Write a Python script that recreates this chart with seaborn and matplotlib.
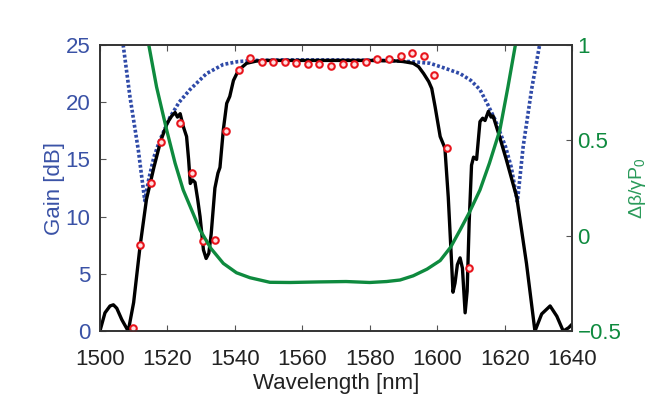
import matplotlib
matplotlib.use("Agg")
import matplotlib.pyplot as plt
import seaborn as sns

# measured gain (black)
gain_wl = [1500, 1501.5, 1503, 1504, 1505, 1506.5, 1508.4, 1510, 1511.9, 1513.8, 1516, 1518,
           1520, 1521.3, 1522.3, 1523, 1523.8, 1524.7, 1525.7, 1526.3, 1526.8, 1527.5, 1528.2,
           1529, 1529.7, 1530.7, 1531.5, 1532.3, 1533, 1534.1, 1535, 1535.6, 1536.6, 1537.6,
           1538.5, 1539.6, 1541.1, 1543.5, 1546.5, 1550, 1560, 1570, 1580, 1588, 1590, 1592.9,
           1594.5, 1596, 1597.5, 1598.4, 1599.4, 1600.9, 1602.3, 1603.3, 1604.3, 1604.7, 1605.3,
           1606, 1606.8, 1607.5, 1608.3, 1608.9, 1609.5, 1610.2, 1610.8, 1611.7, 1612.7, 1613.5,
           1614.2, 1615.2, 1616, 1616.6, 1618.5, 1620.5, 1623.6, 1626.5, 1629, 1631, 1633.5,
           1635.5, 1637.4, 1639, 1640]
gain_db = [0, 1.6, 2.2, 2.3, 2.0, 1.0, 0, 2.5, 7.4, 11.5, 14.3, 16.6,
           18.2, 18.8, 19.1, 18.7, 19.0, 17.9, 17.0, 15.0, 12.9, 13.2, 13.0,
           11.5, 10.0, 7.1, 6.35, 6.8, 8.5, 12.5, 13.8, 14.3, 17.6, 19.9,
           20.5, 21.9, 22.8, 23.4, 23.6, 23.65, 23.65, 23.65, 23.65, 23.6, 23.55, 23.4,
           23.1, 22.5, 21.8, 21.2, 19.6, 17.0, 16.0, 11.7, 5.9, 3.4, 4.2,
           5.8, 6.4, 5.5, 1.6, 3.5, 9.5, 14.5, 15.2, 15.0, 18.3, 18.6,
           18.4, 19.2, 18.7, 18.8, 17.0, 15.0, 11.7, 5.9, 0, 1.5, 2.2,
           1.3, 0, 0.3, 0.6]

# theoretical gain (blue dotted)
theo_wl = [1506.5, 1506.9, 1508.9, 1511.4, 1513.3, 1514.5, 1516, 1517.8, 1520.8, 1523.5,
           1526.7, 1531.6, 1536.6, 1541, 1546, 1555, 1570, 1585, 1592, 1597.9, 1602, 1606.8,
           1610, 1612.7, 1615, 1617.3, 1620.3, 1622, 1623.8, 1625.5, 1628, 1630.5, 1631]
theo_db = [25.9, 25, 20.5, 15.8, 11.4, 13.3, 15.2, 16.7, 18.7, 20.0,
           21.1, 22.5, 23.3, 23.55, 23.65, 23.7, 23.7, 23.65, 23.55, 23.4, 23.0, 22.5,
           21.9, 21.1, 19.8, 18.4, 16.1, 14.3, 11.3, 16.1, 21.1, 25.2, 26.0]

# phase mismatch (green, right axis)
dk_wl = [1514.2, 1514.6, 1516.8, 1519.8, 1522.3, 1524.7, 1529.7, 1532.9, 1536.6, 1540.5,
         1544.5, 1550.4, 1556.4, 1565, 1573, 1580, 1585, 1589, 1592.9, 1597, 1600.9, 1604,
         1606.8, 1609.5, 1612.7, 1615.5, 1618.6, 1621, 1623.1, 1623.5]
dk_val = [1.03, 0.99, 0.78, 0.554, 0.38, 0.24, 0.03, -0.066, -0.145, -0.194,
          -0.22, -0.244, -0.245, -0.242, -0.24, -0.245, -0.24, -0.232, -0.21, -0.175, -0.13, -0.06,
          0.03, 0.12, 0.24, 0.38, 0.554, 0.78, 0.99, 1.03]

# simulated points (red circles)
pts_wl = [1509.9, 1511.9, 1515.1, 1518.1, 1523.7, 1527.2, 1530.7, 1534.1, 1537.4, 1541.1,
          1544.6, 1548.0, 1551.2, 1554.9, 1558.2, 1561.6, 1565.1, 1568.5, 1572.0, 1575.3,
          1578.8, 1582.2, 1585.7, 1589.2, 1592.5, 1596.0, 1599.1, 1602.8, 1609.5]
pts_db = [0.3, 7.5, 12.9, 16.5, 18.2, 13.8, 7.9, 8.0, 17.5, 22.8,
          23.9, 23.5, 23.5, 23.5, 23.4, 23.3, 23.3, 23.2, 23.3, 23.3,
          23.5, 23.8, 23.8, 24.0, 24.3, 24.0, 22.4, 16.0, 5.5]

blue = "#3a52a6"
green = "#0e8a3e"

sns.set_style("ticks")
plt.rcParams["font.family"] = ["Liberation Sans", "DejaVu Sans"]
plt.rcParams["mathtext.default"] = "regular"

fig, ax = plt.subplots(figsize=(6.53, 3.98), dpi=100)
fig.subplots_adjust(left=0.153, right=0.876, bottom=0.168, top=0.887)
ax2 = ax.twinx()

sns.lineplot(x=theo_wl, y=theo_db, ax=ax, color="#2f4aa8", linewidth=2.6,
             linestyle=(0, (0.8, 0.6)))
sns.lineplot(x=gain_wl, y=gain_db, ax=ax, color="black", linewidth=2.4)
sns.scatterplot(x=pts_wl, y=pts_db, ax=ax, marker="o", s=22, facecolor="#ffe0e0",
                edgecolor="#e8141c", linewidth=1.5, zorder=5)
sns.lineplot(x=dk_wl, y=dk_val, ax=ax2, color=green, linewidth=2.4)

ax.set_xlim(1500, 1640)
ax.set_ylim(0, 25)
ax2.set_ylim(-0.5, 1)
ax.set_xticks(range(1500, 1641, 20))
ax.set_yticks(range(0, 26, 5))
ax2.set_yticks([-0.5, 0, 0.5, 1])
ax2.set_yticklabels(["\u22120.5", "0", "0.5", "1"])

ax.set_xlabel("Wavelength [nm]", fontsize=16, color="#222222", labelpad=2)
ax.set_ylabel("Gain [dB]", fontsize=16, color=blue, labelpad=0)
ax2.set_ylabel(r"Δβ/γP$_0$", fontsize=14, color="#2a9a5a", labelpad=4)

ax.tick_params(axis="x", direction="in", length=4, labelsize=16, labelcolor="#222222",
               top=True, color="#555555", pad=13)
ax.tick_params(axis="y", direction="in", length=4, labelsize=16, labelcolor=blue,
               color="#555555", pad=7)
ax2.tick_params(axis="y", direction="in", length=4, labelsize=16, labelcolor=green,
                color="#555555", pad=4)

for a in (ax, ax2):
    for s in a.spines.values():
        s.set_visible(True)
        s.set_color("#333333")
        s.set_linewidth(1.2)

plt.savefig("out.png", dpi=100)
